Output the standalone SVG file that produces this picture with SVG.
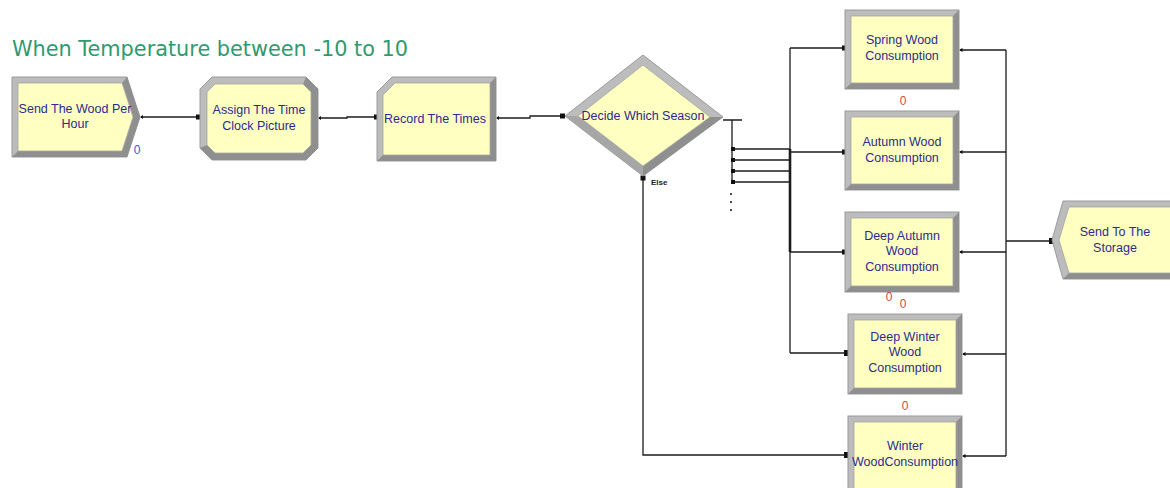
<svg xmlns="http://www.w3.org/2000/svg" width="1170" height="488" viewBox="0 0 1170 488">
<defs>
<style>
.bd{fill:#bcbcbc;stroke:#9a9a9a;stroke-width:1}
.sh{fill:#8f8f8f}
.in{fill:#ffffc2;stroke:#a4a4a4;stroke-width:0.8}
.lbl{font-family:"Liberation Sans",Arial,sans-serif;font-size:12.5px;fill:#2b2b90;text-anchor:middle}
.c{fill:none;stroke:#1c1c1c;stroke-width:1.3}
.en{fill:#111}
.z{font-family:"Liberation Sans Narrow","Liberation Sans",Arial,sans-serif;font-size:12px;text-anchor:middle}
</style>
</defs>
<rect width="1170" height="488" fill="#ffffff"/>
<text x="12" y="56" font-family="'DejaVu Sans',Tahoma,sans-serif" font-size="22" fill="#2f9a6e" textLength="396" lengthAdjust="spacingAndGlyphs">When Temperature between -10 to 10</text>

<g id="connectors">
<path class="c" d="M141 117 H199"/>
<path class="c" d="M319 118 H347 V117 H377"/>
<path class="c" d="M497 118 H530 V116 H564"/>
<path class="c" d="M723 120 H742 M732 120 V183"/>
<path class="c" d="M733 149 H790 M733 160 H790 M733 171 H790 M733 182 H790"/>
<path class="c" d="M790 48 V353"/>
<path fill="none" stroke="#1c1c1c" stroke-width="2.6" d="M790 149 V252"/>
<path class="c" d="M790 48 H845 M790 152 H845 M790 252 H845 M790 353 H848"/>
<path class="c" d="M643 177 V455 H848"/>
<path class="c" d="M960 50 H1006 M960 152 H1006 M960 252 H1006 M963 354 H1006 M963 456 H1006 M1006 50 V456 M1006 241 H1052"/>
<g class="en">
<rect x="196" y="114.5" width="5" height="5"/>
<rect x="374" y="114.5" width="5" height="5"/>
<rect x="560" y="113.5" width="5" height="5"/>
<rect x="731" y="147" width="4" height="4"/>
<rect x="731" y="158" width="4" height="4"/>
<rect x="731" y="169" width="4" height="4"/>
<rect x="731" y="180" width="4" height="4"/>
<rect x="842" y="45.5" width="5" height="5"/>
<rect x="842" y="149.5" width="5" height="5"/>
<rect x="842" y="249.5" width="5" height="5"/>
<rect x="844" y="350" width="6" height="6"/>
<rect x="844" y="452" width="6" height="6"/>
<rect x="640.5" y="175.5" width="5" height="5"/>
<rect x="1049" y="238" width="6" height="6"/>
<circle cx="731" cy="194" r="1"/>
<circle cx="731" cy="202" r="1"/>
<circle cx="731" cy="210" r="1"/>
<path d="M140 117 L143 115 L143 119 Z"/>
<path d="M318 118 L321 116 L321 120 Z"/>
<path d="M496 118 L499 116 L499 120 Z"/>
<path d="M959 50 L962.5 48 L962.5 52 Z"/>
<path d="M959 152 L962.5 150 L962.5 154 Z"/>
<path d="M959 252 L962.5 250 L962.5 254 Z"/>
<path d="M962 354 L965.5 352 L965.5 356 Z"/>
<path d="M962 456 L965.5 454 L965.5 458 Z"/>
</g>
<text x="651" y="185" font-family="'Liberation Sans',Arial,sans-serif" font-size="8" font-weight="bold" fill="#222">Else</text>
</g>

<g id="create">
<polygon class="bd" points="12,77 127,77 140,117 127,157 12,157"/>
<polygon class="sh" points="127,77 140,117 127,157 12,157 18,151 122,151 133,117 122,83"/>
<polygon class="in" points="18,83 122,83 133,117 122,151 18,151"/>
<text class="lbl" x="75" y="113">Send The Wood Per</text>
<text class="lbl" x="75" y="128">Hour</text>
<text class="z" x="137" y="154" fill="#3a58d0">0</text>
</g>

<g id="assign">
<polygon class="bd" points="212,77 306,77 318,89 318,148 306,160 212,160 200,148 200,89"/>
<polygon class="sh" points="306,77 318,89 318,148 306,160 212,160 200,148 207,145 215,153 303,153 311,145 311,92 303,84"/>
<polygon class="in" points="215,84 303,84 311,92 311,145 303,153 215,153 207,145 207,92"/>
<text class="lbl" x="259" y="114">Assign The Time</text>
<text class="lbl" x="259" y="130">Clock Picture</text>
</g>

<g id="record">
<polygon class="bd" points="392,77 496,77 496,161 377,161 377,92"/>
<polygon class="sh" points="496,77 496,161 377,161 383,155 490,155 490,83"/>
<polygon class="in" points="395,83 490,83 490,155 383,155 383,95"/>
<text class="lbl" x="435" y="123">Record The Times</text>
</g>

<g id="decide">
<polygon class="bd" points="565,116 643,55 723,117 643,176"/>
<polygon class="sh" points="723,117 643,176 643,166 710,117"/>
<polygon fill="#a6a6a6" points="565,116 643,176 643,166 578,116"/>
<polygon class="in" points="578,116 643,65 710,117 643,166"/>
<text class="lbl" x="643" y="120">Decide Which Season</text>
</g>

<g id="spring">
<rect class="bd" x="845" y="10" width="114" height="79"/>
<polygon class="sh" points="959,10 959,89 845,89 851,83 953,83 953,16"/>
<rect class="in" x="851" y="16" width="102" height="67"/>
<text class="lbl" x="902" y="44">Spring Wood</text>
<text class="lbl" x="902" y="60">Consumption</text>
<text class="z" x="903" y="105" fill="#d04848">0</text>
</g>

<g id="autumn">
<rect class="bd" x="845" y="111" width="114" height="79"/>
<polygon class="sh" points="959,111 959,190 845,190 851,184 953,184 953,117"/>
<rect class="in" x="851" y="117" width="102" height="67"/>
<text class="lbl" x="902" y="146">Autumn Wood</text>
<text class="lbl" x="902" y="162">Consumption</text>
</g>

<g id="deepautumn">
<rect class="bd" x="845" y="212" width="114" height="80"/>
<polygon class="sh" points="959,212 959,292 845,292 851,286 953,286 953,218"/>
<rect class="in" x="851" y="218" width="102" height="68"/>
<text class="lbl" x="902" y="240">Deep Autumn</text>
<text class="lbl" x="902" y="255">Wood</text>
<text class="lbl" x="902" y="271">Consumption</text>
<text class="z" x="889" y="301" fill="#d04848">0</text>
<text class="z" x="903" y="308" fill="#d04848">0</text>
</g>

<g id="deepwinter">
<rect class="bd" x="848" y="314" width="114" height="80"/>
<polygon class="sh" points="962,314 962,394 848,394 854,388 956,388 956,320"/>
<rect class="in" x="854" y="320" width="102" height="68"/>
<text class="lbl" x="905" y="341">Deep Winter</text>
<text class="lbl" x="905" y="356">Wood</text>
<text class="lbl" x="905" y="372">Consumption</text>
<text class="z" x="905" y="410" fill="#d04848">0</text>
</g>

<g id="winter">
<rect class="bd" x="848" y="416" width="114" height="80"/>
<polygon class="sh" points="962,416 962,496 848,496 854,490 956,490 956,422"/>
<rect class="in" x="854" y="422" width="102" height="68"/>
<text class="lbl" x="905" y="450">Winter</text>
<text class="lbl" x="905" y="466">WoodConsumption</text>
</g>

<g id="dispose">
<polygon class="bd" points="1063,201 1180,201 1180,279 1063,279 1052,240"/>
<polygon class="sh" points="1180,273 1180,279 1063,279 1069,273"/>
<polygon class="in" points="1069,207 1180,207 1180,273 1069,273 1059,240"/>
<text class="lbl" x="1115" y="236">Send To The</text>
<text class="lbl" x="1115" y="252">Storage</text>
</g>
</svg>
